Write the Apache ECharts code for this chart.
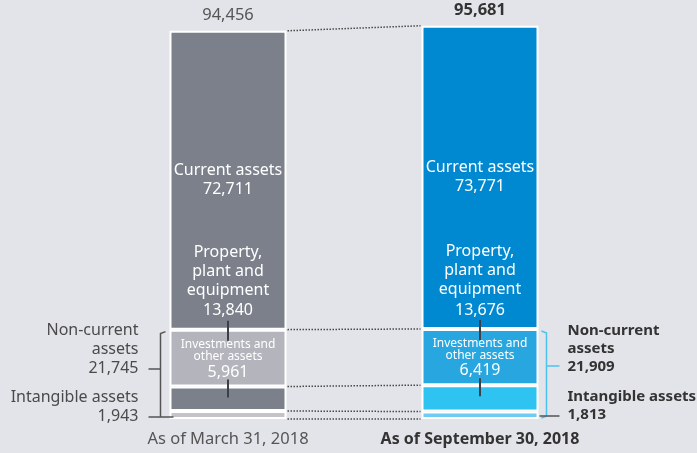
<!DOCTYPE html>
<html>
<head>
<meta charset="utf-8">
<script src="https://cdn.jsdelivr.net/npm/echarts@6/dist/echarts.min.js"></script>
<style>
  html, body { margin: 0; padding: 0; background: #e3e4e9; }
  #chart { width: 697px; height: 453px; }
</style>
</head>
<body>
<div id="chart"></div>
<script>
// balance sheet, assets (millions)
const categories = ['As of March 31, 2018', 'As of September 30, 2018'];
const intangible = [1943, 1813];
const investments = [5961, 6419];
const ppe = [13840, 13676];
const current = [72711, 73771];
const nonCurrent = [21745, 21909];
const totals = [94456, 95681];

const FONT = '"Noto Sans", "Open Sans", sans-serif';
const grayColors = ['#c3c3c9', '#7b808b', '#b4b4bd', '#7b808b'];
const blueColors = ['#6fcbf1', '#2ec3f1', '#27a6df', '#0089d1'];
const fmt = v => v.toLocaleString('en-US');
const BAR_W = 117;

function colored(values, idx) {
    return values.map((v, i) => ({
        value: v,
        itemStyle: { color: i === 0 ? grayColors[idx] : blueColors[idx] }
    }));
}

const chart = echarts.init(document.getElementById('chart'));

function renderNotes(params, api) {
    const i = params.dataIndex;
    const base = api.coord([i, 0]);
    const x = base[0];
    const y0 = base[1];
    const yAt = v => api.coord([i, v])[1];
    const hw = BAR_W / 2;
    const b1 = intangible[i];
    const b2 = b1 + investments[i];
    const b3 = b2 + ppe[i];
    const children = [];
    const tick = '#3a3f4a';

    // pointer ticks inside the bar
    children.push({ type: 'line', shape: { x1: x, y1: yAt(b3) - 9, x2: x, y2: yAt(b3) + 11 },
        style: { stroke: tick, lineWidth: 2 } });
    children.push({ type: 'line', shape: { x1: x, y1: yAt(b2) - 7, x2: x, y2: yAt(b2) + 11 },
        style: { stroke: tick, lineWidth: 2 } });

    // total on top
    children.push({ type: 'text', style: {
        text: fmt(totals[i]), x: x, y: yAt(totals[i]) - 15,
        align: 'center', verticalAlign: 'middle',
        font: (i === 0 ? 'normal ' : 'bold ') + '16.5px ' + FONT,
        fill: i === 0 ? '#555' : '#333'
    } });

    if (i === 0) {
        // dotted connectors to the next bar
        const xr = api.coord([1, 0])[0];
        const ryAt = v => api.coord([1, v])[1];
        const rb1 = intangible[1], rb2 = rb1 + investments[1], rb3 = rb2 + ppe[1];
        [[0, 0], [b1, rb1], [b2, rb2], [b3, rb3], [totals[0], totals[1]]].forEach(p => {
            children.push({ type: 'line', shape: { x1: x + hw + 1, y1: yAt(p[0]), x2: xr - hw - 1, y2: ryAt(p[1]) },
                style: { stroke: '#4a4a4a', lineWidth: 1.5, lineDash: [1.5, 1.5] } });
        });
        // bracket
        const bx = x - hw - 9;
        const top = yAt(b3) + 2;
        const bot = y0 - 2;
        children.push({ type: 'polyline', shape: { points: [[bx + 5, top], [bx, top + 2], [bx, bot]] },
            style: { stroke: '#555', lineWidth: 1.5, fill: null } });
        children.push({ type: 'line', shape: { x1: bx - 12, y1: y0 - 50, x2: bx, y2: y0 - 50 },
            style: { stroke: '#555', lineWidth: 1.5 } });
        children.push({ type: 'line', shape: { x1: bx - 12, y1: bot, x2: x - hw + 4, y2: bot },
            style: { stroke: '#555', lineWidth: 1.5 } });
        children.push({ type: 'text', style: {
            text: 'Non-current\nassets\n' + fmt(nonCurrent[i]), x: bx - 22, y: y0 - 70,
            align: 'right', verticalAlign: 'middle', lineHeight: 19,
            font: '16px ' + FONT, fill: '#4a4a4a'
        } });
        children.push({ type: 'text', style: {
            text: 'Intangible assets\n' + fmt(intangible[i]), x: bx - 22, y: y0 - 12,
            align: 'right', verticalAlign: 'middle', lineHeight: 19,
            font: '16px ' + FONT, fill: '#4a4a4a'
        } });
    } else {
        const bx = x + hw + 8;
        const top = yAt(b3) - 9;
        const bot = y0 - 1;
        children.push({ type: 'polyline', shape: { points: [[bx - 5, top + 11], [bx, top + 13], [bx, bot - 2], [bx - 5, bot]] },
            style: { stroke: '#4cc3ee', lineWidth: 1.5, fill: null } });
        children.push({ type: 'line', shape: { x1: bx, y1: y0 - 53, x2: bx + 13, y2: y0 - 53 },
            style: { stroke: '#4cc3ee', lineWidth: 1.5 } });
        children.push({ type: 'line', shape: { x1: x + hw + 1, y1: y0 - 3, x2: bx + 13, y2: y0 - 3 },
            style: { stroke: '#555', lineWidth: 1.5 } });
        children.push({ type: 'text', style: {
            text: 'Non-current\nassets\n' + fmt(nonCurrent[i]), x: bx + 21, y: y0 - 70,
            align: 'left', verticalAlign: 'middle', lineHeight: 18,
            font: 'bold 15px ' + FONT, fill: '#333'
        } });
        children.push({ type: 'text', style: {
            text: 'Intangible assets\n' + fmt(intangible[i]), x: bx + 21, y: y0 - 13,
            align: 'left', verticalAlign: 'middle', lineHeight: 18,
            font: 'bold 15px ' + FONT, fill: '#333'
        } });
    }
    return { type: 'group', children: children };
}

chart.setOption({
    backgroundColor: '#e3e4e9',
    animation: false,
    textStyle: { fontFamily: FONT },
    grid: { left: 102, right: 91, top: 8, bottom: 34 },
    xAxis: {
        type: 'category',
        data: categories,
        axisLine: { show: false },
        axisTick: { show: false },
        axisLabel: {
            margin: 12,
            formatter: (v, i) => i === 0 ? '{a|' + v + '}' : '{b|' + v + '}',
            rich: {
                a: { fontSize: 16.5, color: '#555', fontFamily: FONT },
                b: { fontSize: 16, color: '#333', fontWeight: 'bold', fontFamily: FONT }
            }
        }
    },
    yAxis: { type: 'value', min: 0, max: 100000, show: false, splitLine: { show: false } },
    series: [
        {
            name: 'Intangible assets', type: 'bar', stack: 'a', barWidth: BAR_W,
            data: colored(intangible, 0),
            itemStyle: { borderColor: '#fff', borderWidth: 2 }
        },
        {
            name: 'Investments and other assets', type: 'bar', stack: 'a', barWidth: BAR_W,
            data: colored(investments, 1),
            itemStyle: { borderColor: '#fff', borderWidth: 2 },
            label: {
                show: true, position: 'top', distance: 5,
                formatter: p => '{s|Investments and}\n{s|other assets}\n{n|' + fmt(p.value) + '}',
                rich: {
                    s: { fontSize: 12, lineHeight: 12, color: '#fff', fontFamily: FONT },
                    n: { fontSize: 16, lineHeight: 19, color: '#fff', fontFamily: FONT }
                }
            }
        },
        {
            name: 'Property, plant and equipment', type: 'bar', stack: 'a', barWidth: BAR_W,
            data: colored(ppe, 2),
            itemStyle: { borderColor: '#fff', borderWidth: 2 },
            label: {
                show: true, position: 'top', distance: 8,
                formatter: p => '{t|Property,}\n{t|plant and}\n{t|equipment}\n{n|' + fmt(p.value) + '}',
                rich: {
                    t: { fontSize: 16, lineHeight: 19, color: '#fff', fontFamily: FONT },
                    n: { fontSize: 16, lineHeight: 22, color: '#fff', fontFamily: FONT }
                }
            }
        },
        {
            name: 'Current assets', type: 'bar', stack: 'a', barWidth: BAR_W,
            data: colored(current, 3),
            itemStyle: { borderColor: '#fff', borderWidth: 2 },
            label: {
                show: true, position: 'inside',
                formatter: p => 'Current assets\n' + fmt(p.value),
                fontSize: 16, lineHeight: 19, color: '#fff', fontFamily: FONT
            }
        },
        {
            name: 'notes', type: 'custom', silent: true, z: 5,
            data: [0, 1].map(i => [i, totals[i]]),
            renderItem: renderNotes
        }
    ]
});
</script>
</body>
</html>
